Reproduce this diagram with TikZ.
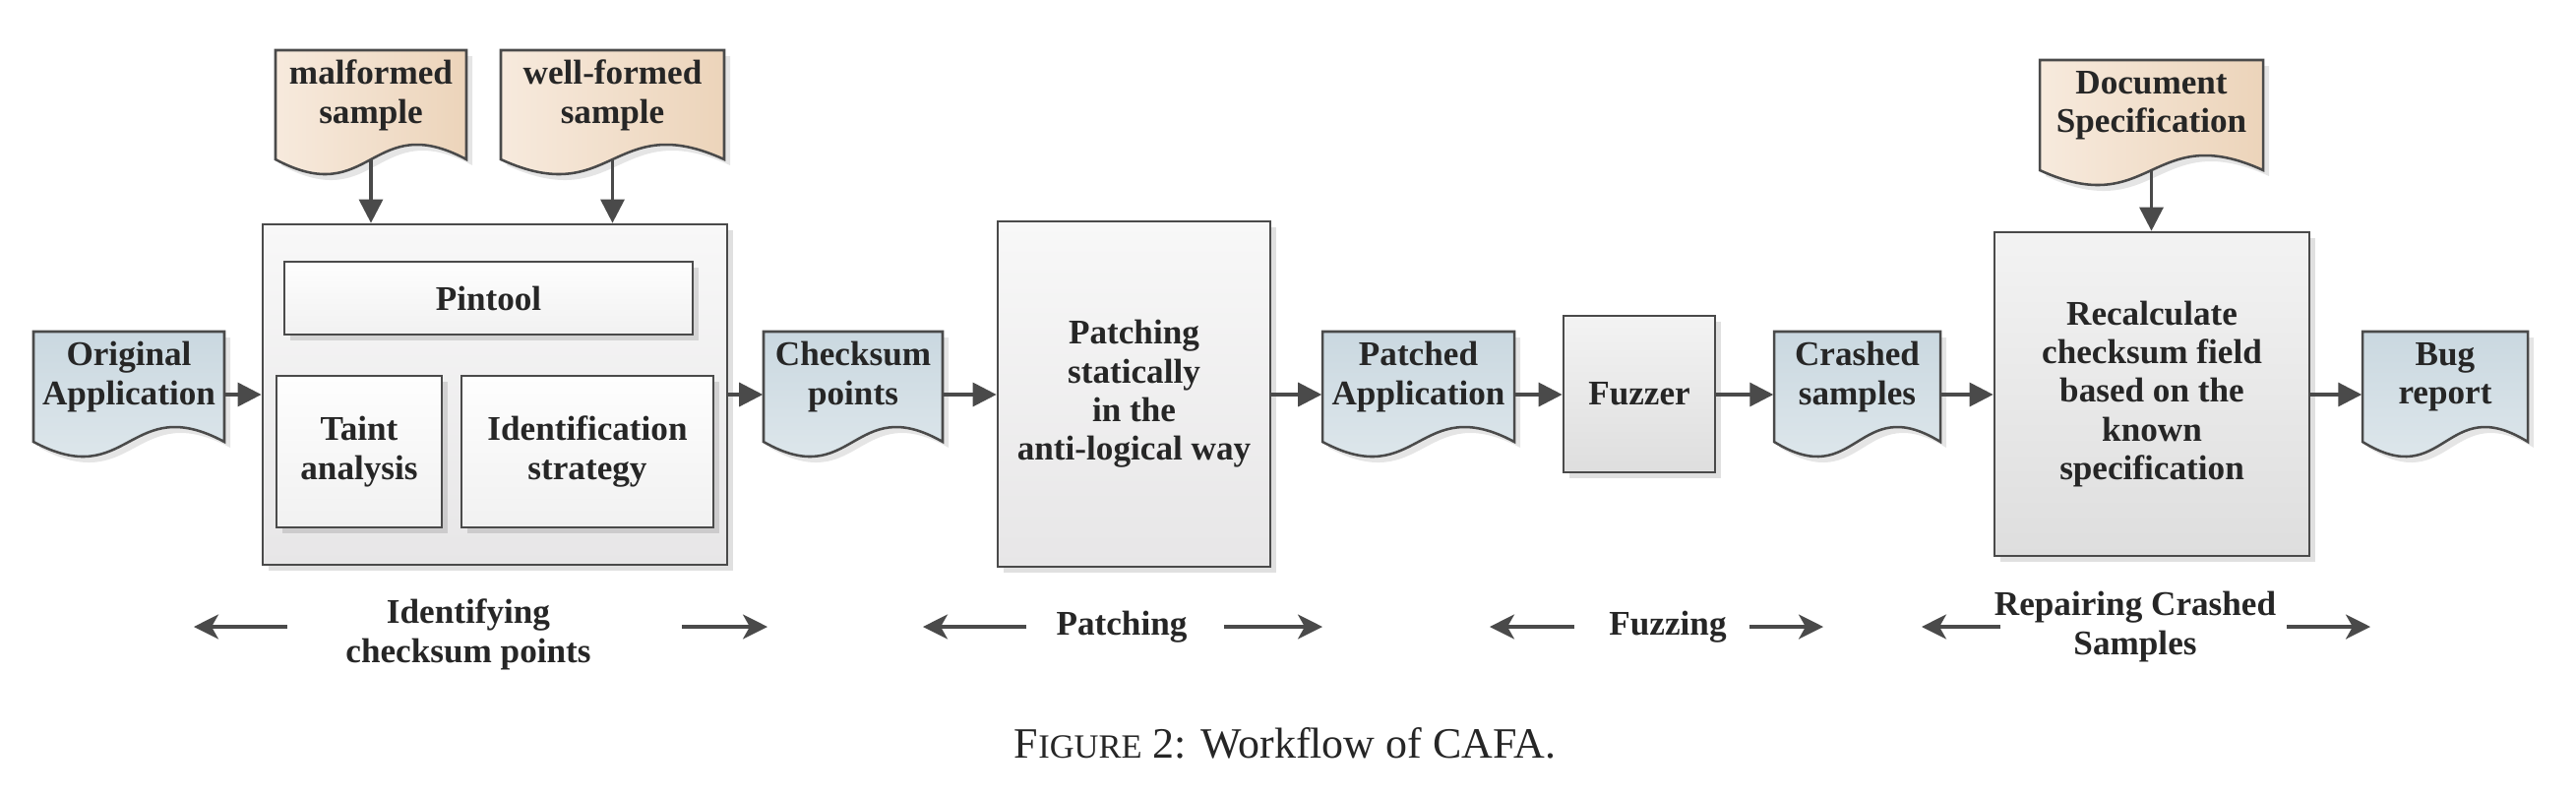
\documentclass[tikz,border=0pt]{standalone}
\usepackage{fontspec}
\setmainfont{Liberation Serif}
\usetikzlibrary{arrows.meta,shadows}
\definecolor{linec}{HTML}{4A4A4A}
\definecolor{txt}{HTML}{262626}
\definecolor{bluetop}{HTML}{CAD8E0}
\definecolor{bluebot}{HTML}{E2EAEE}
\definecolor{tanl}{HTML}{F7EADD}
\definecolor{tanr}{HTML}{ECD4BA}
\definecolor{grytop}{HTML}{F8F8F8}
\definecolor{grybot}{HTML}{E7E6E7}
\definecolor{gry2top}{HTML}{F3F3F3}
\definecolor{gry2bot}{HTML}{DEDEDE}
\definecolor{whtop}{HTML}{FEFEFE}
\definecolor{whbot}{HTML}{F1F1F1}
\definecolor{shad}{HTML}{E3E3E3}
\tikzset{
  lbl/.style={font=\bfseries\fontsize{10}{11.2}\selectfont, text=txt, align=center, inner sep=0pt},
  boxshadow/.style={drop shadow={shadow xshift=0.06cm, shadow yshift=-0.06cm, fill=black, opacity=0.12}},
  procbox/.style={draw=linec, line width=0.72pt, top color=grytop, bottom color=grybot, lbl, boxshadow},
  procboxdark/.style={draw=linec, line width=0.72pt, top color=gry2top, bottom color=gry2bot, lbl, boxshadow},
  innerbox/.style={draw=linec, line width=0.72pt, top color=whtop, bottom color=whbot, lbl, boxshadow},
  bluedoc/.style={top color=bluetop, bottom color=bluebot},
  tandoc/.style={left color=tanl, right color=tanr},
  flow/.style={draw=linec, line width=0.9pt, -{Triangle[length=0.24cm,width=0.24cm]}},
  phase/.style={draw=linec, line width=0.9pt, -{Stealth[length=0.25cm,width=0.25cm,inset=0.07cm]}},
}
% name, x1, top, x2, ybottom-of-sides, style, text
\newcommand\docshape[7]{%
  \pgfmathsetmacro\dmx{(#2+#4)/2}%
  \pgfmathsetmacro\dw{(#4-#2)/100}%
  \pgfmathsetmacro\dh{(#5+16-#3)/100}%
  \pgfmathsetmacro\dcy{(#3+#5+16)/2}%
  \begin{scope}[shift={(6,6)}]
    \fill[black, opacity=0.10] (#2,#3) -- (#4,#3) -- (#4,#5) .. controls (\dmx,#5-52) and (\dmx,#5+52) .. (#2,#5) -- cycle;
  \end{scope}
  \path[#6, draw=linec, line width=0.72pt] (#2,#3) -- (#4,#3) -- (#4,#5) .. controls (\dmx,#5-52) and (\dmx,#5+52) .. (#2,#5) -- cycle;
  \node[inner sep=0pt, minimum width=\dw cm, minimum height=\dh cm] (#1) at (\dmx,\dcy) {};
  \coordinate (#1-b) at (\dmx,#5);
  \node[lbl] (#1-t) at (\dmx,#3+46) {#7};
}
\begin{document}
\begin{tikzpicture}[x=0.01cm,y=-0.01cm]
\useasboundingbox (0,0) rectangle (2618,808);
\fill[white] (0,0) rectangle (2618,808);

% input samples
\docshape{mal}{280}{51}{474}{162}{tandoc}{malformed\\sample}
\docshape{well}{509}{51}{736}{162}{tandoc}{well-formed\\sample}
\docshape{spec}{2073}{61}{2300}{173}{tandoc}{Document\\Specification}

% identification block
\node[procbox, minimum width=4.72cm, minimum height=3.46cm] (ident) at (503,401) {};
\node[innerbox, minimum width=4.15cm, minimum height=0.74cm] (pin) at (496.5,303) {Pintool};
\node[innerbox, minimum width=1.68cm, minimum height=1.54cm] (taint) at (365,459) {Taint\\analysis};
\node[innerbox, minimum width=2.56cm, minimum height=1.54cm] (strat) at (597,459) {Identification\\strategy};

% documents
\docshape{orig}{34}{337}{228}{449}{bluedoc}{Original\\Application}
\docshape{cks}{776}{337}{958}{449}{bluedoc}{Checksum\\points}
\docshape{patched}{1344}{337}{1539}{449}{bluedoc}{Patched\\Application}
\docshape{crash}{1803}{337}{1972}{449}{bluedoc}{Crashed\\samples}
\docshape{bug}{2401}{337}{2569}{449}{bluedoc}{Bug\\report}

% processes
\node[procbox, minimum width=2.77cm, minimum height=3.51cm] (patch) at (1152.5,400.5) {Patching\\statically\\in the\\anti-logical way};
\node[procboxdark, minimum width=1.54cm, minimum height=1.59cm] (fuzz) at (1666,400.5) {Fuzzer};
\node[procboxdark, minimum width=3.20cm, minimum height=3.29cm] (recalc) at (2187,400.5) {Recalculate\\checksum field\\based on the\\known\\specification};

% flow arrows
\draw[flow] (orig.east) -- (orig.east -| ident.west);
\draw[flow] (ident.east) -- (ident.east -| cks.west);
\draw[flow] (cks.east) -- (cks.east -| patch.west);
\draw[flow] (patched.west -| patch.east) -- (patched.west);
\draw[flow] (patched.east) -- (patched.east -| fuzz.west);
\draw[flow] (crash.west -| fuzz.east) -- (crash.west);
\draw[flow] (crash.east) -- (crash.east -| recalc.west);
\draw[flow] (bug.west -| recalc.east) -- (bug.west);
\draw[flow] (mal-b) -- (mal-b |- ident.north);
\draw[flow] (well-b) -- (well-b |- ident.north);
\draw[flow] (spec-b) -- (spec-b |- recalc.north);

% phases
\node[lbl] (ph1) at (476,645) {Identifying\\checksum points};
\node[lbl] (ph2) at (1140,637) {Patching};
\node[lbl] (ph3) at (1695,637) {Fuzzing};
\node[lbl] (ph4) at (2170,637) {Repairing Crashed\\Samples};
\coordinate (p1a) at (292,637); \coordinate (p1b) at (197,637);
\coordinate (p1c) at (693,637); \coordinate (p1d) at (780,637);
\coordinate (p2a) at (1043,637); \coordinate (p2b) at (938,637);
\coordinate (p2c) at (1244,637); \coordinate (p2d) at (1344,637);
\coordinate (p3a) at (1600,637); \coordinate (p3b) at (1514,637);
\coordinate (p3c) at (1778,637); \coordinate (p3d) at (1853,637);
\coordinate (p4a) at (2033,637); \coordinate (p4b) at (1953,637);
\coordinate (p4c) at (2324,637); \coordinate (p4d) at (2409,637);
\draw[phase] (p1a) -- (p1b);
\draw[phase] (p1c) -- (p1d);
\draw[phase] (p2a) -- (p2b);
\draw[phase] (p2c) -- (p2d);
\draw[phase] (p3a) -- (p3b);
\draw[phase] (p3c) -- (p3d);
\draw[phase] (p4a) -- (p4b);
\draw[phase] (p4c) -- (p4d);

% caption
\node[font=\fontsize{12.5}{14}\selectfont, text=txt, inner sep=0pt] (cap) at (1306,755) {F{\fontsize{9.8}{12}\selectfont IGURE} 2: Workflow of CAFA.};
\end{tikzpicture}
\end{document}
